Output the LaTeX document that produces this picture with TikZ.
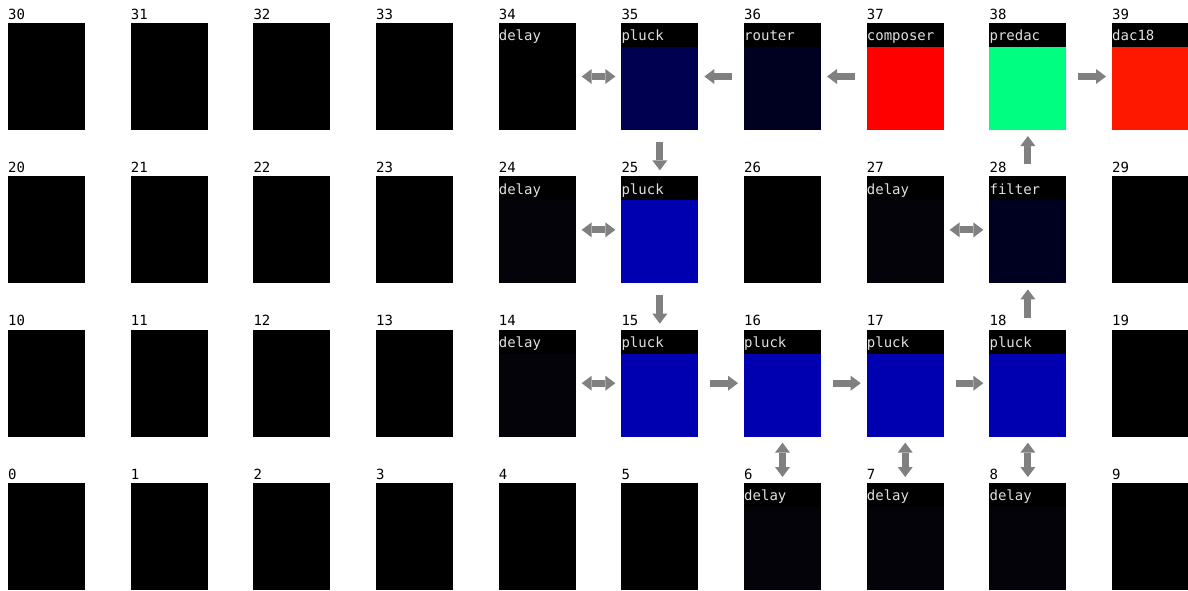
\documentclass[tikz,border=0pt]{standalone}
\usepackage{fontspec}
\newfontfamily\mono{DejaVu Sans Mono}
\usetikzlibrary{arrows.meta}
\definecolor{cnavy}{HTML}{000050}
\definecolor{cdark}{HTML}{000020}
\definecolor{cred}{HTML}{FF0000}
\definecolor{cgreen}{HTML}{00FF80}
\definecolor{cdac}{HTML}{FF1800}
\definecolor{cpluck}{HTML}{0000B0}
\definecolor{cdelay}{HTML}{030309}
\definecolor{headgray}{HTML}{E0E0E0}
\definecolor{arrowgray}{HTML}{808080}
\begin{document}
\begin{tikzpicture}[x=1pt,y=-1pt,
  cellbox/.style={draw=none,minimum width=77pt,minimum height=107pt,inner sep=0pt,outer sep=0pt},
  head/.style={fill=black,minimum width=77pt,minimum height=24pt,inner sep=0pt,outer sep=0pt,anchor=north west},
  htext/.style={anchor=base west,inner sep=0pt,text=headgray,font=\mono\fontsize{14}{16}\selectfont},
  numtext/.style={anchor=base west,inner sep=0pt,text=black,font=\mono\fontsize{14}{16}\selectfont},
  one/.style={draw=arrowgray,line width=7pt,-{Triangle[length=10pt,width=15pt,line width=0pt]},shorten <=12pt,shorten >=6pt},
  two/.style={draw=arrowgray,line width=7pt,{Triangle[length=10pt,width=15pt,line width=0pt]}-{Triangle[length=10pt,width=15pt,line width=0pt]},shorten <=6pt,shorten >=6pt}
]
\useasboundingbox[fill=white] (0,0) rectangle (1188,590);
% plain cells
\foreach \n in {0,1,2,3,4,5,9,10,11,12,13,19,20,21,22,23,26,29,30,31,32,33}{
  \pgfmathtruncatemacro\cc{mod(\n,10)}
  \pgfmathtruncatemacro\rr{int(\n/10)}
  \node[cellbox,fill=black] (b\n) at ({46.5+122.67*\cc},{536.5-153.33*\rr}) {};
  \node[numtext] (n\n) at ([yshift=4pt]b\n.north west) {\n};
}
% labelled cells
\foreach \n/\f/\t in {6/cdelay/delay,7/cdelay/delay,8/cdelay/delay,
  14/cdelay/delay,15/cpluck/pluck,16/cpluck/pluck,17/cpluck/pluck,18/cpluck/pluck,
  24/cdelay/delay,25/cpluck/pluck,27/cdelay/delay,28/cdark/filter,
  34/black/delay,35/cnavy/pluck,36/cdark/router,37/cred/composer,38/cgreen/predac,39/cdac/dac18}{
  \pgfmathtruncatemacro\cc{mod(\n,10)}
  \pgfmathtruncatemacro\rr{int(\n/10)}
  \node[cellbox,fill=\f] (b\n) at ({46.5+122.67*\cc},{536.5-153.33*\rr}) {};
  \node[head] (h\n) at (b\n.north west) {};
  \node[htext] (t\n) at ([yshift=-17.7pt]b\n.north west) {\t};
  \node[numtext] (n\n) at ([yshift=4pt]b\n.north west) {\n};
}
% connectors
\draw[two] (b34.east) -- (b35.west);
\draw[one] (b36.west) -- (b35.east);
\draw[one] (b37.west) -- (b36.east);
\draw[one] (b38.east) -- (b39.west);
\draw[one] (b35.south) -- (b25.north);
\draw[two] (b24.east) -- (b25.west);
\draw[one] (b25.south) -- (b15.north);
\draw[two] (b27.east) -- (b28.west);
\draw[one] (b28.north) -- (b38.south);
\draw[one] (b18.north) -- (b28.south);
\draw[two] (b14.east) -- (b15.west);
\draw[one] (b15.east) -- (b16.west);
\draw[one] (b16.east) -- (b17.west);
\draw[one] (b17.east) -- (b18.west);
\draw[two] (b16.south) -- (b6.north);
\draw[two] (b17.south) -- (b7.north);
\draw[two] (b18.south) -- (b8.north);
\end{tikzpicture}
\end{document}
